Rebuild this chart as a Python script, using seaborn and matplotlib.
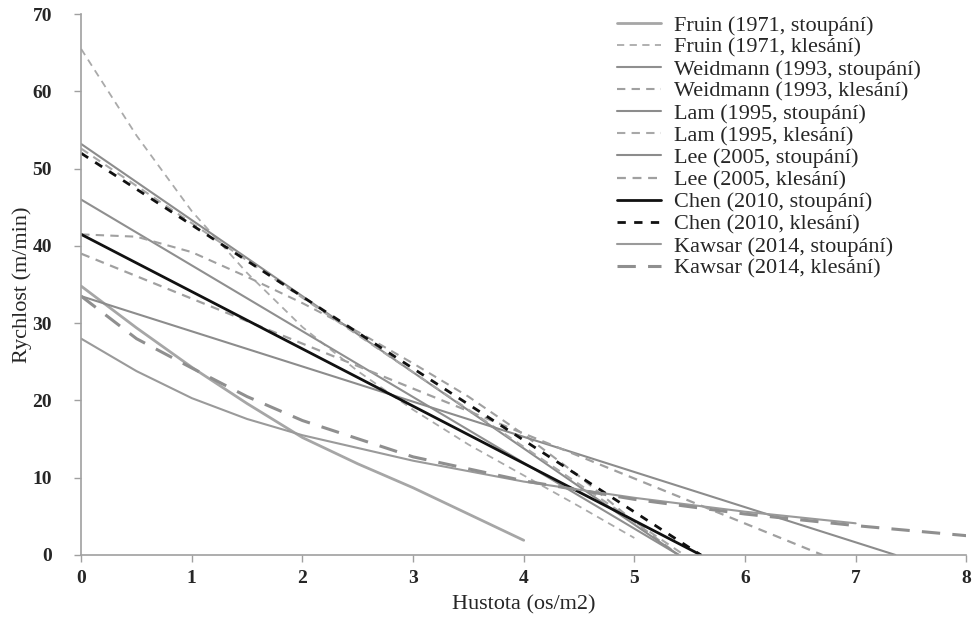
import matplotlib
matplotlib.use('Agg')
import matplotlib.pyplot as plt
import seaborn as sns
import pandas as pd

# hustota (os/m2) a rychlost (m/min)
fruin_st_x = [0, 0.5, 1, 1.5, 2, 2.5, 3, 3.5, 4]
fruin_st_y = [34.8, 29.4, 24.3, 19.6, 15.2, 11.8, 8.7, 5.3, 1.9]
fruin_kl_x = [0, 0.5, 1, 1.5, 2, 2.5, 3, 3.5, 4, 4.5, 5]
fruin_kl_y = [65.5, 54.3, 44.5, 36.5, 29.5, 23.8, 18.8, 14.3, 10.3, 6.3, 2.2]
weid_st_x = [0, 5.4]
weid_st_y = [46.0, 0]
weid_kl_x = [0, 0.5, 1, 1.5, 2, 2.5, 3, 3.5, 4, 4.5, 5, 5.4]
weid_kl_y = [41.5, 41.2, 39.2, 36.0, 32.6, 28.9, 24.8, 20.5, 15.6, 10.2, 4.3, 0]
lam_st_x = [0, 5.4]
lam_st_y = [53.2, 0]
lam_kl_x = [0, 5.45]
lam_kl_y = [52.6, 0]
lee_st_x = [0, 7.36]
lee_st_y = [33.5, 0]
lee_kl_x = [0, 6.7]
lee_kl_y = [39.0, 0]
chen_st_x = [0, 5.6]
chen_st_y = [41.5, 0]
chen_kl_x = [0, 5.6]
chen_kl_y = [52.0, 0]
kaw_st_x = [0, 0.5, 1, 1.5, 2, 3, 4, 5, 6, 7]
kaw_st_y = [28.0, 23.8, 20.3, 17.6, 15.5, 12.2, 9.5, 7.4, 5.6, 4.1]
kaw_kl_x = [0, 0.5, 1, 1.5, 2, 3, 4, 5, 6, 7, 8]
kaw_kl_y = [33.5, 28.0, 24.2, 20.5, 17.4, 12.7, 9.6, 7.2, 5.3, 3.8, 2.5]

series = [
    ('Fruin (1971, stoupání)', fruin_st_x, fruin_st_y, '#a6a6a6', '-', 2.0),
    ('Fruin (1971, klesání)', fruin_kl_x, fruin_kl_y, '#aaaaaa', (0, (4, 3)), 1.3),
    ('Weidmann (1993, stoupání)', weid_st_x, weid_st_y, '#8f8f8f', '-', 1.5),
    ('Weidmann (1993, klesání)', weid_kl_x, weid_kl_y, '#a0a0a0', (0, (4, 3)), 1.5),
    ('Lam (1995, stoupání)', lam_st_x, lam_st_y, '#8c8c8c', '-', 1.5),
    ('Lam (1995, klesání)', lam_kl_x, lam_kl_y, '#a8a8a8', (0, (4, 3)), 1.5),
    ('Lee (2005, stoupání)', lee_st_x, lee_st_y, '#8c8c8c', '-', 1.5),
    ('Lee (2005, klesání)', lee_kl_x, lee_kl_y, '#a0a0a0', (0, (4, 3)), 1.6),
    ('Chen (2010, stoupání)', chen_st_x, chen_st_y, '#111111', '-', 2.0),
    ('Chen (2010, klesání)', chen_kl_x, chen_kl_y, '#111111', (0, (3, 3)), 2.0),
    ('Kawsar (2014, stoupání)', kaw_st_x, kaw_st_y, '#9a9a9a', '-', 1.5),
    ('Kawsar (2014, klesání)', kaw_kl_x, kaw_kl_y, '#8f8f8f', (0, (6, 4)), 2.2),
]

sns.set_theme(style='white')
plt.rcParams['font.family'] = ['Liberation Serif', 'DejaVu Serif']

fig = plt.figure(figsize=(9.78, 6.18), dpi=100)
ax = fig.add_axes([0.083, 0.102, 0.905, 0.875])

for name, xs, ys, col, ls, lw in series:
    df = pd.DataFrame({'x': xs, 'y': ys})
    sns.lineplot(data=df, x='x', y='y', ax=ax, color=col, linestyle=ls,
                 linewidth=lw, label=name, sort=False)

ax.set_xlim(0, 8)
ax.set_ylim(0, 70)
ax.set_xticks(range(0, 9))
ax.set_yticks(range(0, 71, 10))
for lab in ax.get_xticklabels() + ax.get_yticklabels():
    lab.set_fontweight('bold')
    lab.set_fontsize(14)
ax.tick_params(axis='both', length=5, width=1, color='#a0a0a0', direction='out',
               bottom=True, left=True)
ax.tick_params(axis='y', pad=16)
ax.tick_params(axis='x', pad=6)
ax.set_xlabel('Hustota (os/m2)', fontsize=16, labelpad=6)
ax.set_ylabel('Rychlost (m/min)', fontsize=16, labelpad=0)
sns.despine(ax=ax)
for s in ['left', 'bottom']:
    ax.spines[s].set_color('#a0a0a0')
    ax.spines[s].set_linewidth(1.2)

ax.legend(loc='upper left', bbox_to_anchor=(617 / 978, 1 - 15 / 618),
          bbox_transform=fig.transFigure, frameon=False, borderpad=0,
          borderaxespad=0, fontsize=16, handlelength=2.0, labelspacing=0.07,
          handletextpad=0.55)

fig.savefig('out.png', dpi=100)
